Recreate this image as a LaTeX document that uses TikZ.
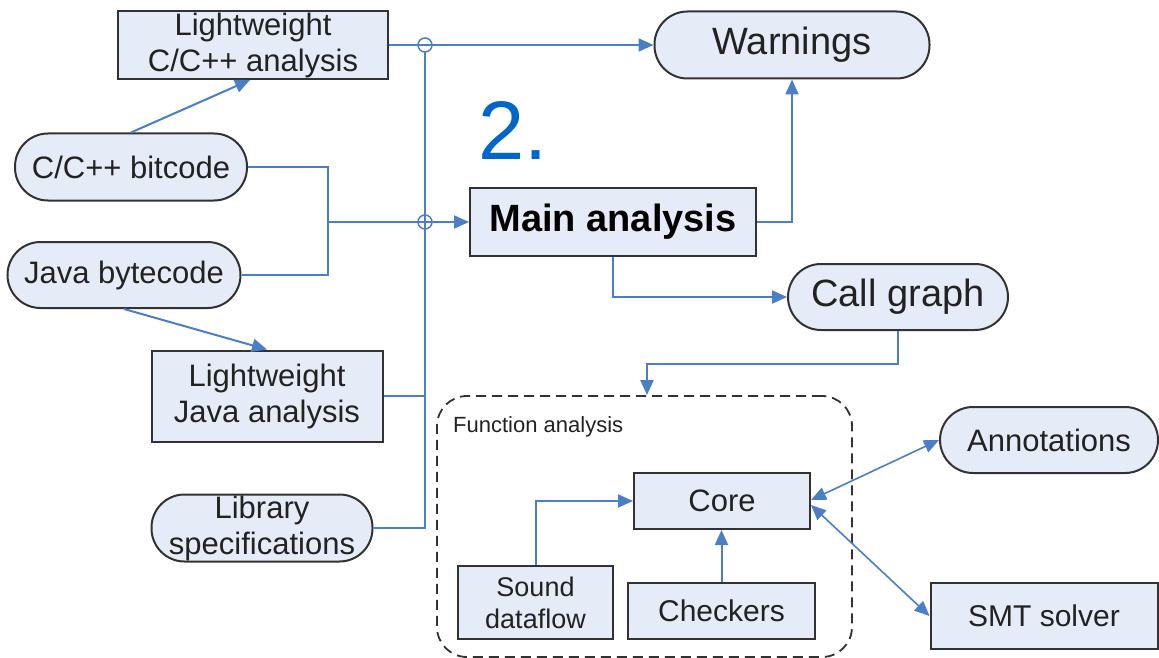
\documentclass[tikz,border=0pt]{standalone}
\usepackage{fontspec}
\setmainfont{Liberation Sans}
\usetikzlibrary{arrows.meta,calc}
\definecolor{lineblue}{RGB}{74,126,198}
\definecolor{boxfill}{RGB}{230,236,247}
\definecolor{boxline}{RGB}{50,50,50}
\definecolor{numblue}{RGB}{0,102,204}
\definecolor{txt}{RGB}{34,34,34}
\begin{document}
\begin{tikzpicture}[x=1pt,y=-1pt,
  box/.style={draw=boxline, line width=2pt, fill=boxfill, inner sep=0pt, align=center, text=txt, font=\fontsize{31}{36}\selectfont},
  stad/.style={box, rounded corners=33pt},
  conn/.style={draw=lineblue, line width=2pt},
  arr/.style={conn, -{Triangle[length=15pt,width=13pt]}},
  darr/.style={conn, line width=1.6pt, {Triangle[length=15pt,width=13pt]}-{Triangle[length=15pt,width=13pt]}},
  hop/.style={circle, draw=lineblue, line width=1.5pt, minimum size=14pt, inner sep=0pt},
  funcbox/.style={draw=boxline, dash pattern=on 10pt off 6pt, line width=1.8pt, rounded corners=30pt, inner sep=0pt},
]
\useasboundingbox (0,0) rectangle (1159,658);

% container
\node[funcbox, minimum width=415pt, minimum height=261pt] (func) at (644.5,526.5) {};
\node[anchor=base west, inner sep=0pt, text=txt, font=\fontsize{22}{26}\selectfont] (flabel) at (453,432) {Function analysis};

% nodes
\node[box, minimum width=270pt, minimum height=68pt] (lwc) at (253,45) {Lightweight\\C/C++ analysis};
\node[stad, minimum width=275pt, minimum height=67pt, font=\fontsize{38}{44}\selectfont] (warn) at (792,45) {Warnings};
\node[stad, minimum width=232pt, minimum height=67pt] (cbit) at (131,167) {C/C++ bitcode};
\node[stad, minimum width=233pt, minimum height=66pt] (jbyte) at (124,275) {Java bytecode};
\node[box, minimum width=286pt, minimum height=68pt, font=\fontsize{38}{44}\selectfont\bfseries, text=black] (main) at (613,222) {Main analysis};
\node[stad, minimum width=220pt, minimum height=66pt, font=\fontsize{38}{44}\selectfont] (callg) at (898,297) {Call graph};
\node[box, minimum width=231pt, minimum height=91pt] (lwj) at (267,396) {Lightweight\\Java analysis};
\node[stad, minimum width=221pt, minimum height=67pt] (libs) at (262,528) {Library\\specifications};
\node[box, minimum width=176pt, minimum height=56pt] (core) at (722,501) {Core};
\node[box, minimum width=155pt, minimum height=73pt, font=\fontsize{27}{32}\selectfont] (sound) at (535.5,602.5) {Sound\\dataflow};
\node[box, minimum width=187pt, minimum height=56pt, font=\fontsize{30}{36}\selectfont] (check) at (721.5,611) {Checkers};
\node[stad, minimum width=218pt, minimum height=66pt] (annot) at (1049,440) {Annotations};
\node[box, minimum width=227pt, minimum height=66pt, font=\fontsize{30}{36}\selectfont] (smt) at (1044,616) {SMT solver};

\node[anchor=base west, inner sep=0pt, text=numblue, font=\fontsize{83}{90}\selectfont] (two) at (478,160) {2.};

% junction points
\coordinate (m) at (328,222);
\coordinate (j1) at (425,45);
\coordinate (j2) at (425,222);

% connectors
\draw[arr] (cbit.north) -- ([xshift=-3pt]lwc.south);
\draw[arr] (jbyte.south) -- (lwj.north);
\draw[conn] (cbit.east) -| (m);
\draw[conn] (jbyte.east) -| (m);
\draw[arr] (m) -- (main.west);
\draw[arr] (lwc.east) -- (warn.west);
\draw[conn] (lwj.east) -- (lwj.east -| j1);
\draw[conn] ([yshift=-7pt]j1) -- (libs.east -| j1) -- (libs.east);
\node[hop] (h1) at (j1) {};
\node[hop] (h2) at (j2) {};
\draw[arr] (main.east) -| (warn.south);
\draw[arr] (main.south) |- (callg.west);
\draw[arr] (callg.south) -- ++(0,33) -| ([xshift=2.5pt]func.north);
\draw[arr] (sound.north) |- (core.west);
\draw[arr] (check.north) -- (check.north |- core.south);
\draw[darr] ([yshift=1pt]core.east) -- (annot.west);
\draw[darr] ([yshift=-4pt]core.east) -- (smt.west);
\end{tikzpicture}
\end{document}
